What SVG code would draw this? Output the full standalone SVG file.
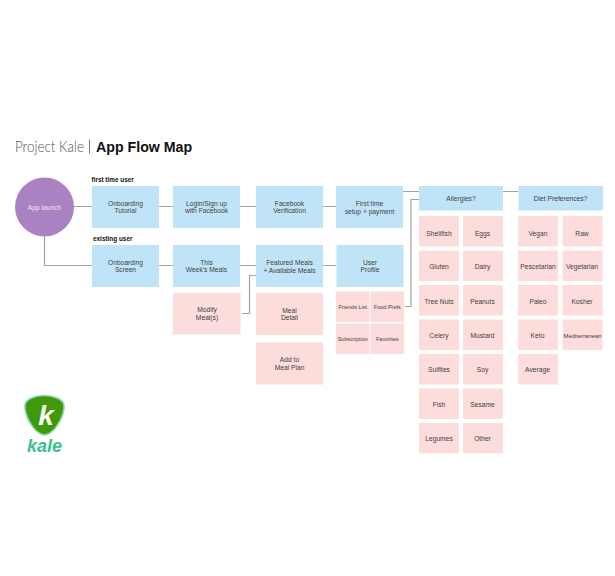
<svg xmlns="http://www.w3.org/2000/svg" width="615" height="576" viewBox="0 0 615 576">
<style>
text{font-family:"Liberation Sans",Arial,sans-serif;text-anchor:middle;fill:#3f3f3f;font-size:6.700px}
.b{fill:#bfe4f8}.p{fill:#fddcdc}
.s{font-size:5.500px}
.c{fill:none;stroke:#a3a3a3;stroke-width:1.2}
.h{font-size:6.400px;font-weight:700;fill:#111;text-anchor:start}
</style>
<rect width="615" height="576" fill="#fff"/>
<text x="15" y="152" style="font-family:Lato,'Liberation Sans',sans-serif;font-weight:300;font-size:15.500px;text-anchor:start;fill:#555" textLength="69" lengthAdjust="spacingAndGlyphs">Project Kale</text>
<rect x="89" y="139.500" width="0.800" height="14" fill="#555"/>
<text x="96" y="152" style="font-size:14.200px;font-weight:700;text-anchor:start;fill:#111">App Flow Map</text>
<text class="h" x="91.500" y="182">first time user</text>
<text class="h" x="93" y="241">existing user</text>
<g id="connectors">
<path class="c" d="M73 206.500H92M159 206.500H173M240 206.500H256M323 206.500H336M403 191.500H419M503 191.500H518"/>
<path class="c" d="M44.500 236V265.500H92M159 265.500H173M240 265.500H256M323 265.500H336"/>
<path class="c" d="M405 306.500H411V199.500H419"/>
<path class="c" d="M242 313.500H249.500V275.500H256"/>
</g>
<g id="app-launch"><circle cx="44.500" cy="207" r="29.500" fill="#ab82c1"/><text x="44.500" y="209.500" style="fill:#f0e6f5">App launch</text></g>
<g id="onboarding-tutorial"><rect class="b" x="92" y="186" width="67" height="42"/><text x="125.500" y="205.500">Onboarding</text><text x="125.500" y="213">Tutorial</text></g>
<g id="login"><rect class="b" x="173" y="186" width="67" height="42"/><text x="206.500" y="205.500">Login/Sign up</text><text x="206.500" y="213">with Facebook</text></g>
<g id="facebook"><rect class="b" x="256" y="186" width="67" height="42"/><text x="289.500" y="205.500">Facebook</text><text x="289.500" y="213">Verification</text></g>
<g id="first-time"><rect class="b" x="336" y="186" width="67" height="42"/><text x="369.500" y="205.500">First time</text><text x="369.500" y="213.500">setup + payment</text></g>
<g id="allergies"><rect class="b" x="419" y="186" width="84" height="24.500"/><text x="461" y="201">Allergies?</text></g>
<g id="diet"><rect class="b" x="518.500" y="186" width="84.500" height="24.500"/><text x="560.500" y="201">Diet Preferences?</text></g>
<g id="onboarding-screen"><rect class="b" x="92" y="245" width="67" height="42"/><text x="125.500" y="264.500">Onboarding</text><text x="125.500" y="272">Screen</text></g>
<g id="this-week"><rect class="b" x="173" y="245" width="67" height="42"/><text x="206.500" y="264.500">This</text><text x="206.500" y="272">Week's Meals</text></g>
<g id="featured"><rect class="b" x="256" y="245" width="67" height="42"/><text x="289.500" y="265">Featured Meals</text><text x="289.500" y="273">+ Available Meals</text></g>
<g id="user-profile"><rect class="b" x="336.500" y="245" width="67" height="42"/><text x="370" y="264.500">User</text><text x="370" y="272">Profile</text></g>
<g id="modify"><rect class="p" x="173" y="293" width="67.500" height="41.500"/><text x="207" y="312">Modify</text><text x="207" y="320">Meal(s)</text></g>
<g id="meal-detail"><rect class="p" x="256" y="293" width="67" height="42"/><text x="289.500" y="312.500">Meal</text><text x="289.500" y="320">Detail</text></g>
<g id="add-to"><rect class="p" x="256" y="342.500" width="67" height="42"/><text x="289.500" y="361.500">Add to</text><text x="289.500" y="369.500">Meal Plan</text></g>
<g id="friends"><rect class="p" x="336" y="291.500" width="33.500" height="30.500"/><text class="s" x="352.800" y="308.800">Friends List</text></g>
<g id="food-prefs"><rect class="p" x="370.500" y="291.500" width="33.500" height="30.500"/><text class="s" x="387.300" y="308.800">Food Prefs</text></g>
<g id="subscription"><rect class="p" x="336" y="323.500" width="33.500" height="30.500"/><text class="s" x="352.800" y="340.800">Subscription</text></g>
<g id="favorites"><rect class="p" x="370.500" y="323.500" width="33.500" height="30.500"/><text class="s" x="387.300" y="340.800">Favorites</text></g>
<g id="shellfish"><rect class="p" x="419" y="216" width="40" height="30.500"/><text x="439" y="235.500">Shellfish</text></g>
<g id="eggs"><rect class="p" x="463" y="216" width="40" height="30.500"/><text x="482.500" y="235.500">Eggs</text></g>
<g id="gluten"><rect class="p" x="419" y="250.500" width="40" height="30.500"/><text x="439" y="269">Gluten</text></g>
<g id="dairy"><rect class="p" x="463" y="250.500" width="40" height="30.500"/><text x="482.500" y="269">Dairy</text></g>
<g id="tree-nuts"><rect class="p" x="419" y="285" width="40" height="30.500"/><text x="439" y="303.500">Tree Nuts</text></g>
<g id="peanuts"><rect class="p" x="463" y="285" width="40" height="30.500"/><text x="482.500" y="303.500">Peanuts</text></g>
<g id="celery"><rect class="p" x="419" y="319.500" width="40" height="30.500"/><text x="439" y="337.500">Celery</text></g>
<g id="mustard"><rect class="p" x="463" y="319.500" width="40" height="30.500"/><text x="482.500" y="337.500">Mustard</text></g>
<g id="sulfites"><rect class="p" x="419" y="354" width="40" height="30.500"/><text x="439" y="372">Sulfites</text></g>
<g id="soy"><rect class="p" x="463" y="354" width="40" height="30.500"/><text x="482.500" y="372">Soy</text></g>
<g id="fish"><rect class="p" x="419" y="388.500" width="40" height="30.500"/><text x="439" y="406.500">Fish</text></g>
<g id="sesame"><rect class="p" x="463" y="388.500" width="40" height="30.500"/><text x="482.500" y="406.500">Sesame</text></g>
<g id="legumes"><rect class="p" x="419" y="423" width="40" height="30.500"/><text x="439" y="441">Legumes</text></g>
<g id="other"><rect class="p" x="463" y="423" width="40" height="30.500"/><text x="482.500" y="441">Other</text></g>
<g id="vegan"><rect class="p" x="518" y="216" width="40" height="30.500"/><text x="538" y="235.500">Vegan</text></g>
<g id="raw"><rect class="p" x="562.500" y="216" width="40" height="30.500"/><text x="582" y="235.500">Raw</text></g>
<g id="pescetarian"><rect class="p" x="518" y="250.500" width="40" height="30.500"/><text x="538" y="269">Pescetarian</text></g>
<g id="vegetarian"><rect class="p" x="562.500" y="250.500" width="40" height="30.500"/><text x="582" y="269">Vegetarian</text></g>
<g id="paleo"><rect class="p" x="518" y="285" width="40" height="30.500"/><text x="538" y="303.500">Paleo</text></g>
<g id="kosher"><rect class="p" x="562.500" y="285" width="40" height="30.500"/><text x="582" y="303.500">Kosher</text></g>
<g id="keto"><rect class="p" x="518" y="319.500" width="40" height="30.500"/><text x="537.500" y="337.500">Keto</text></g>
<g id="mediterranean"><rect class="p" x="562.500" y="319.500" width="40" height="30.500"/><text x="582.500" y="337.500" style="font-size:5.900px">Mediterranean</text></g>
<g id="average"><rect class="p" x="518" y="354" width="40" height="30.500"/><text x="537.500" y="372">Average</text></g>
<g id="logo">
<path d="M44 395.500C53 395.500 63 399 64 405C65 415 55 434 44.500 435C34 434 24 415 25 405C26 399 35 395.500 44 395.500Z" fill="#3f9a0a" stroke="#8fd8b0" stroke-width="1.600"/>
<text x="46" y="425" style="font-size:28px;font-weight:700;font-style:italic;fill:#fff">k</text>
<text x="44.500" y="451.500" style="font-size:19px;font-weight:700;font-style:italic;fill:#3cc08e" textLength="35" lengthAdjust="spacingAndGlyphs">kale</text>
</g>
</svg>
